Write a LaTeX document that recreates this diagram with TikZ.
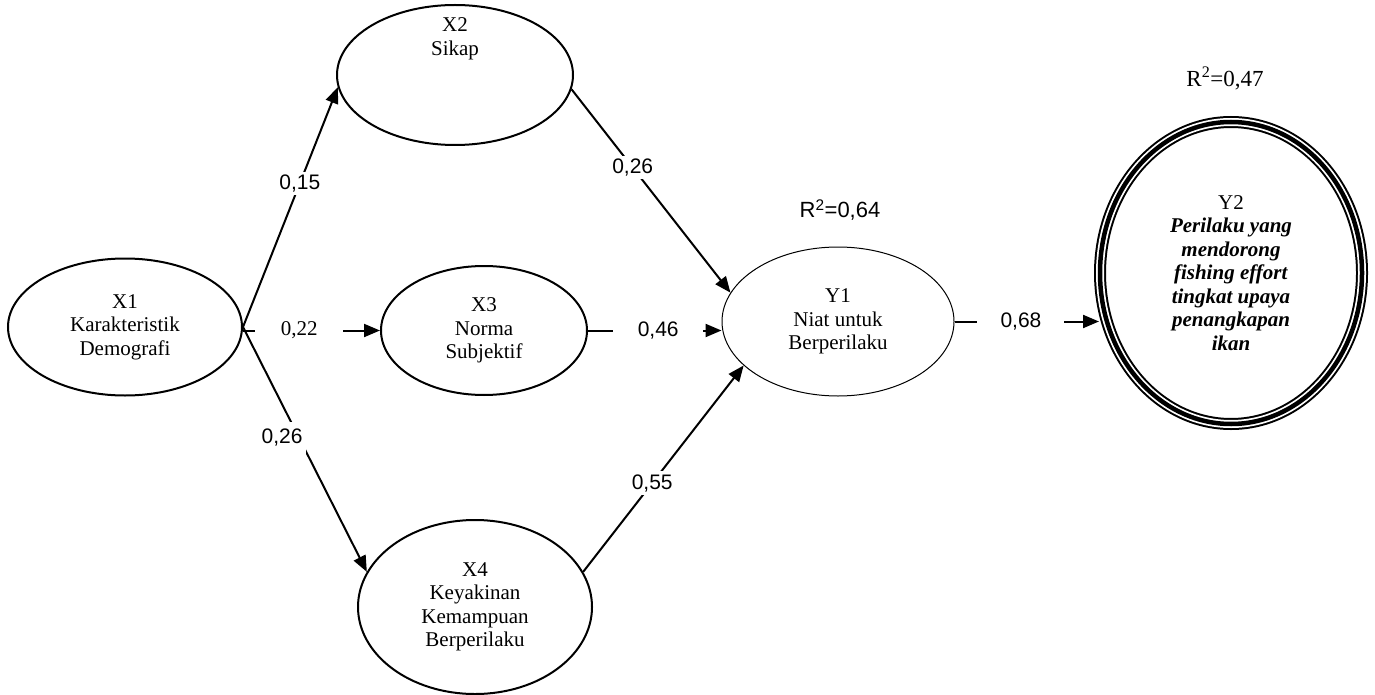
\documentclass[tikz,border=0pt]{standalone}
\usepackage{fontspec}
\setmainfont{Liberation Serif}
\newfontfamily\arial{Liberation Sans}
\usetikzlibrary{shapes.geometric,arrows.meta}

\begin{document}
\begin{tikzpicture}[x=1pt, y=-1pt, >={Triangle[length=16pt,width=13pt]},
    every node/.style={font=\fontsize{21}{23.5}\selectfont},
    latent/.style={ellipse, draw, line width=2pt, align=center, inner sep=0pt},
    coef/.style={fill=white, inner sep=3pt, font=\arial\fontsize{21}{23.5}\selectfont},
    link/.style={->, line width=2pt}]

    \useasboundingbox (0,0) rectangle (1375,695);

    % variabel laten
    \node[latent, minimum width=234pt, minimum height=137pt] (x1) at (125,327) {X1\\Karakteristik\\Demografi};
    \node[latent, minimum width=236pt, minimum height=140pt] (x2) at (455,75) {};
    \node[align=center] (x2t) at (455,39) {X2\\Sikap};
    \node[latent, minimum width=206pt, minimum height=129pt] (x3) at (484,330.5) {X3\\Norma\\Subjektif};
    \node[latent, minimum width=234pt, minimum height=174pt] (x4) at (475,607) {X4\\Keyakinan\\Kemampuan\\Berperilaku};
    \node[latent, line width=1pt, minimum width=232pt, minimum height=149pt] (y1) at (838,321.5) {Y1\\Niat untuk\\Berperilaku};

    % Y2 dengan garis tiga
    \node[ellipse, draw, double, line width=2pt, double distance=8pt, minimum width=262pt, minimum height=302pt,
          inner sep=0pt, align=center] (y2) at (1231,273)
          {Y2\\\textbf{\textit{Perilaku yang}}\\\textbf{\textit{mendorong}}\\\textbf{\textit{fishing effort}}\\
           \textbf{\textit{tingkat upaya}}\\\textbf{\textit{penangkapan}}\\\textbf{\textit{ikan}}};
    \draw[line width=4.5pt] (y2.center) ellipse [x radius=131pt, y radius=151pt];

    % R kuadrat
    \node[font=\arial\fontsize{22}{24}\selectfont] (r2y1) at (840,210) {R\textsuperscript{2}=0,64};
    \node[font=\fontsize{23}{25}\selectfont] (r2y2) at (1225,78) {R\textsuperscript{2}=0,47};

    % jalur
    \draw[link] (x1.east) -- node[coef, pos=0.6] {0,15} (x2.186);
    \draw[link] (x1.east |- x3.west) -- node[coef, pos=0.41, minimum width=88pt, font=\fontsize{21}{23.5}\selectfont] {0,22} (x3.west);
    \draw[link] (x1.east) -- node[coef, pos=0.453, xshift=-17pt, inner ysep=7pt] {0,26} (x4.162);
    \draw[link] (x2.353) -- node[coef, pos=0.385] {0,26} (y1.165);
    \draw[link] (x3.east) -- node[coef, pos=0.526, minimum width=90pt] {0,46} (x3.east -| y1.west);
    \draw[link] (x4.18) -- node[coef, pos=0.43] {0,55} (y1.205);
    \draw[link] (y1.east) -- node[coef, pos=0.46, minimum width=87pt] {0,68} (y1.east -| y2.west);
\end{tikzpicture}
\end{document}
